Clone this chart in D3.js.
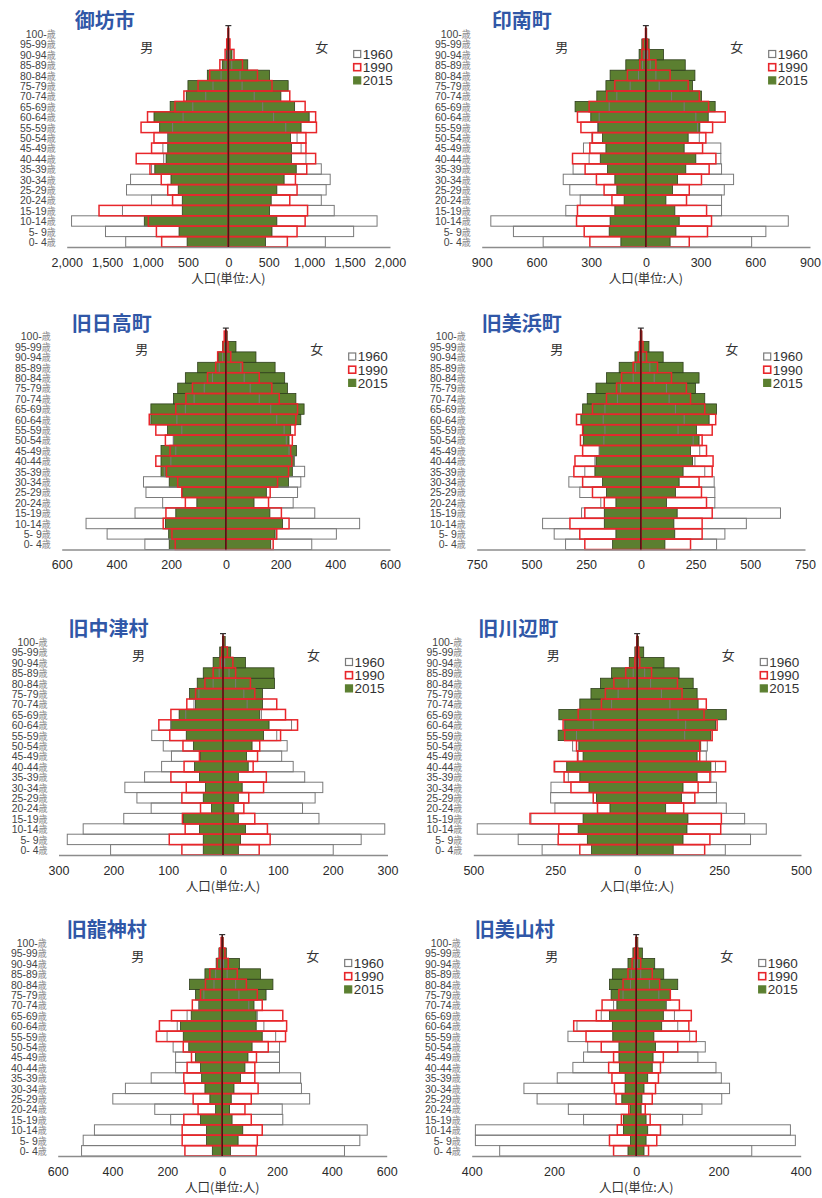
<!DOCTYPE html>
<html><head><meta charset="utf-8">
<script src="https://cdn.jsdelivr.net/npm/d3@7"></script>
<style>body{margin:0;background:#fff} svg{display:block} text{white-space:pre}</style>
</head><body><svg id="c" width="822" height="1198"></svg>
<script>
// ---------- data (bottom row "0- 4" first, top row "100-" last) ----------
const ageLabels = ["0- 4","5- 9","10-14","15-19","20-24","25-29","30-34","35-39","40-44","45-49","50-54","55-59","60-64","65-69","70-74","75-79","80-84","85-89","90-94","95-99","100-"];
const years = ["1960","1990","2015"];
const panelNames = ["御坊市","印南町","旧日高町","旧美浜町","旧中津村","旧川辺町","旧龍神村","旧美山村"];
const axisMax  = [2000,900,600,750,300,500,600,400];
const axisStep = [500,300,200,250,100,250,200,200];
const showAxisTitle = [true,true,false,false,true,true,true,true];

// 御坊市
const gobo_m1960 = [1270,1520,1940,1310,950,1260,1210,950,800,810,750,690,560,440,280,190,90,40,12,3,0];
const gobo_m1990 = [825,890,990,1600,690,750,830,970,1140,950,920,1080,1000,660,550,375,230,105,40,20,3];
const gobo_m2015 = [510,610,1040,570,570,620,710,910,770,750,750,850,920,720,520,500,260,75,22,10,2];
const gobo_f1960 = [1200,1550,1840,1310,1150,1210,1260,1150,960,900,850,710,560,425,320,170,145,42,15,3,0];
const gobo_f1990 = [730,850,950,980,760,850,830,970,1080,960,960,1090,1080,950,760,540,360,175,70,20,3];
const gobo_f2015 = [460,540,600,510,530,600,690,840,780,780,770,900,1000,820,650,740,510,240,45,15,3];
// 印南町
const inami_m1960 = [563,726,850,439,360,417,453,399,311,342,296,265,256,201,159,86,40,18,9,2,0];
const inami_m1990 = [307,338,380,375,186,229,271,333,402,307,293,356,375,311,214,170,101,33,22,15,2];
const inami_m2015 = [137,201,196,170,119,159,170,210,250,219,238,261,302,388,269,219,196,110,37,22,2];
const inami_f1960 = [580,658,781,415,415,430,481,415,411,411,293,283,274,210,141,73,55,24,9,2,0];
const inami_f1990 = [238,338,360,333,223,238,305,347,384,311,329,366,435,344,293,232,133,55,18,9,2];
const inami_f2015 = [133,165,183,159,110,146,174,219,274,210,232,296,342,380,305,256,269,216,97,18,5];
// 旧日高町
const hidaka_m1960 = [296,434,511,332,231,292,301,225,201,183,192,161,179,148,116,79,49,24,12,3,0];
const hidaka_m1990 = [185,197,229,219,148,161,176,217,256,204,221,256,280,183,146,122,67,37,30,10,6];
const hidaka_m2015 = [207,209,221,183,106,158,207,237,237,237,192,213,274,274,191,176,148,103,27,12,2];
const hidaka_f1960 = [314,404,489,325,246,262,274,288,250,231,221,213,186,164,122,89,67,55,18,5,0];
const hidaka_f1990 = [173,186,231,203,156,162,189,229,241,237,243,253,256,262,195,168,122,61,18,8,2];
const hidaka_f2015 = [164,180,207,161,103,148,229,243,250,258,231,237,274,286,256,225,215,180,110,37,5];
// 旧美浜町
const mihama_m1960 = [344,396,449,271,183,279,329,256,210,190,169,164,172,164,107,93,35,24,5,2,0];
const mihama_m1990 = [256,279,324,256,167,221,266,306,301,266,276,266,294,221,157,111,88,35,12,5,2];
const mihama_m2015 = [129,114,167,167,114,157,175,210,205,190,263,263,274,266,245,205,157,99,27,8,2];
const mihama_f1960 = [346,384,482,638,338,338,335,292,247,269,239,170,198,158,129,117,61,41,10,3,0];
const mihama_f1990 = [227,280,280,326,300,277,266,326,330,300,280,326,342,292,227,208,140,76,26,10,3];
const mihama_f2015 = [110,155,151,166,117,158,175,193,236,227,266,254,312,346,292,250,266,193,102,37,5];
// 旧中津村
const nakatsu_m1960 = [205,284,255,181,131,157,179,143,112,94,109,130,95,68,53,44,18,7,2,0,0];
const nakatsu_m1990 = [75,98,69,74,41,75,67,95,71,43,73,97,117,95,66,50,33,18,5,2,0];
const nakatsu_m2015 = [36,36,43,72,21,36,32,43,52,41,54,67,95,80,50,61,47,36,18,6,1];
const nakatsu_f1960 = [201,252,295,175,145,168,182,149,128,107,117,98,125,70,44,38,23,11,3,0,0];
const nakatsu_f1990 = [66,86,81,58,38,47,74,79,55,63,67,105,136,114,98,58,50,23,18,8,1];
const nakatsu_f2015 = [28,32,41,28,20,28,35,28,46,43,53,74,84,67,72,72,94,93,41,14,4];
// 旧川辺町
const kawabe_m1960 = [290,363,488,324,251,264,263,210,251,180,197,185,134,141,78,58,27,12,3,0,0];
const kawabe_m1990 = [175,241,239,327,121,134,202,223,253,182,185,221,226,180,109,97,71,35,7,3,1];
const kawabe_m2015 = [139,152,180,165,83,124,147,175,215,165,178,241,221,239,175,141,112,78,24,7,2];
const kawabe_f1960 = [269,346,394,328,272,242,242,225,239,211,214,145,148,125,100,74,41,23,5,0,0];
const kawabe_f1990 = [206,222,255,257,142,176,186,222,270,191,191,229,244,204,211,137,123,44,8,5,1];
const kawabe_f2015 = [110,140,152,155,87,135,140,183,225,183,194,225,239,272,186,183,171,128,82,20,4];
// 旧龍神村
const ryujin_m1960 = [513,507,466,188,246,399,353,259,170,170,179,201,164,128,85,67,30,24,5,0,0];
const ryujin_m1990 = [136,146,146,140,88,106,136,140,128,112,142,240,229,185,109,79,61,45,18,9,4];
const ryujin_m2015 = [36,57,57,79,24,45,63,75,79,97,122,142,152,113,85,97,119,63,22,12,2];
const ryujin_f1960 = [446,502,529,221,219,319,289,286,209,209,209,195,152,128,97,61,49,18,5,0,0];
const ryujin_f1990 = [124,128,146,106,83,106,131,119,119,125,168,231,235,221,146,128,88,55,22,10,2];
const ryujin_f2015 = [30,58,75,36,27,33,43,67,83,94,109,146,124,124,116,160,185,140,63,15,4];
// 旧美山村
const miyama_m1960 = [332,391,391,128,165,241,273,192,154,128,118,166,144,85,55,32,14,12,3,0,0];
const miyama_m1990 = [55,65,46,36,18,49,53,59,67,55,85,122,152,97,83,42,32,20,10,4,1];
const miyama_m2015 = [20,14,31,31,15,35,27,27,41,42,42,57,58,65,47,61,65,58,20,8,2];
const miyama_f1960 = [281,387,375,113,160,208,227,207,194,150,168,130,101,93,73,55,32,11,3,0,0];
const miyama_f1990 = [30,50,59,34,22,39,47,54,59,66,101,146,128,134,105,83,57,39,11,4,1];
const miyama_f2015 = [19,24,28,24,12,14,19,28,39,41,47,43,62,66,73,83,101,67,45,15,4];

const male = [
  [gobo_m1960,gobo_m1990,gobo_m2015],[inami_m1960,inami_m1990,inami_m2015],
  [hidaka_m1960,hidaka_m1990,hidaka_m2015],[mihama_m1960,mihama_m1990,mihama_m2015],
  [nakatsu_m1960,nakatsu_m1990,nakatsu_m2015],[kawabe_m1960,kawabe_m1990,kawabe_m2015],
  [ryujin_m1960,ryujin_m1990,ryujin_m2015],[miyama_m1960,miyama_m1990,miyama_m2015]];
const female = [
  [gobo_f1960,gobo_f1990,gobo_f2015],[inami_f1960,inami_f1990,inami_f2015],
  [hidaka_f1960,hidaka_f1990,hidaka_f2015],[mihama_f1960,mihama_f1990,mihama_f2015],
  [nakatsu_f1960,nakatsu_f1990,nakatsu_f2015],[kawabe_f1960,kawabe_f1990,kawabe_f2015],
  [ryujin_f1960,ryujin_f1990,ryujin_f2015],[miyama_f1960,miyama_f1990,miyama_f2015]];

// ---------- layout ----------
const layout = [
  {x0:66.7, x1:390,   yb:247,   tdx:8},
  {x0:481.7,x1:810,   yb:247,   tdx:10},
  {x0:61.7, x1:390,   yb:549.5, tdx:10},
  {x0:476.7,x1:805,   yb:549.5, tdx:5},
  {x0:58.5, x1:387.5, yb:855,   tdx:10},
  {x0:473.3,x1:801,   yb:855,   tdx:5},
  {x0:57.7, x1:386.7, yb:1156,  tdx:9},
  {x0:471.7,x1:800.7, yb:1156,  tdx:3}];
const rowH = 10.4;
const latin = "'Liberation Sans', Arial, sans-serif";
const cjk = "'Noto Sans CJK JP', 'Noto Sans', sans-serif";
const style = {
  "1960": {fill:"none", stroke:"#7a7a7a", sw:1},
  "1990": {fill:"none", stroke:"#e8262b", sw:1.5},
  "2015": {fill:"#5b7f30", stroke:"#2e3d1c", sw:0.8}
};
const drawOrder = [2,0,1]; // 2015 filled below, outlines above

const svg = d3.select("#c");

panelNames.forEach((name,i)=>{
  const L = layout[i];
  const g = svg.append("g");
  const x = d3.scaleLinear().domain([-axisMax[i], axisMax[i]]).range([L.x0, L.x1]);
  const y = d3.scaleBand().domain(ageLabels.slice().reverse())
              .range([L.yb - ageLabels.length*rowH, L.yb]).padding(0);
  const x0v = x(0);

  drawOrder.forEach(k=>{
    const yr = years[k], st = style[yr];
    const rows = ageLabels.map((a,j)=>({age:a, m:male[i][k][j], f:female[i][k][j]}));
    const gs = g.append("g").attr("fill",st.fill).attr("stroke",st.stroke).attr("stroke-width",st.sw);
    gs.selectAll("rect.m").data(rows.filter(d=>d.m>0)).join("rect").attr("class","m")
      .attr("x",d=>x(-d.m)).attr("width",d=>x0v-x(-d.m))
      .attr("y",d=>y(d.age)).attr("height",y.bandwidth());
    gs.selectAll("rect.f").data(rows.filter(d=>d.f>0)).join("rect").attr("class","f")
      .attr("x",x0v).attr("width",d=>x(d.f)-x0v)
      .attr("y",d=>y(d.age)).attr("height",y.bandwidth());
  });

  // x axis
  const ax = d3.axisBottom(x)
    .tickValues(d3.range(-axisMax[i], axisMax[i]+1, axisStep[i]))
    .tickFormat(d=>d3.format(",")(Math.abs(d)))
    .tickSize(0).tickSizeOuter(0).tickPadding(11);
  const ga = g.append("g").attr("transform",`translate(0,${L.yb})`).call(ax)
    .attr("font-family",latin).attr("font-size",12.5);
  ga.select(".domain").attr("stroke","#8c8c8c").attr("stroke-width",1.5);
  ga.selectAll(".tick text").attr("fill","#2a2a2a");

  // center line with cap
  const topY = L.yb - ageLabels.length*rowH - 3;
  g.append("line").attr("x1",x0v).attr("x2",x0v).attr("y1",topY).attr("y2",L.yb)
    .attr("stroke","#4d1414").attr("stroke-width",1.6);
  g.append("line").attr("x1",x0v-3).attr("x2",x0v+3).attr("y1",topY).attr("y2",topY)
    .attr("stroke","#333").attr("stroke-width",1.2);

  // age labels (one text per row: digits + small grey 歳)
  const lab = g.append("g");
  const t = lab.selectAll("text").data(ageLabels).join("text")
    .attr("transform",d=>`translate(${L.x0-11},${y(d)+rowH/2}) scale(1,1.12)`)
    .attr("dy","0.35em").attr("text-anchor","end")
    .attr("font-family",latin).attr("font-size",10.5).attr("fill","#444");
  t.append("tspan").text(d=>d);
  t.append("tspan").attr("font-family",cjk).attr("font-size",9).attr("fill","#8a8a8a").text("歳");

  // title
  g.append("text").attr("x",L.x0+L.tdx).attr("y",L.yb-219)
    .attr("font-family",cjk).attr("font-weight","bold").attr("font-size",20)
    .attr("fill","#3057a7").text(name);

  // sex labels
  g.append("text").attr("x",L.x0+80).attr("y",L.yb-195.5).attr("text-anchor","middle")
    .attr("font-family",cjk).attr("font-size",13).attr("fill","#333").text("男");
  g.append("text").attr("x",L.x0+255).attr("y",L.yb-195.5).attr("text-anchor","middle")
    .attr("font-family",cjk).attr("font-size",13).attr("fill","#333").text("女");

  // legend
  const lg = g.append("g");
  years.forEach((yr,k)=>{
    const cy = L.yb - 193 + k*13.2;
    const st = style[yr];
    lg.append("rect").attr("x",L.x0+287).attr("y",cy-3.5).attr("width",7).attr("height",7)
      .attr("fill", st.fill==="none" ? "#fff" : st.fill)
      .attr("stroke", yr==="2015" ? "#5b7f30" : st.stroke).attr("stroke-width", yr==="1990"?1.6:1.2);
    lg.append("text").attr("x",L.x0+296).attr("y",cy).attr("dy","0.36em")
      .attr("font-family",latin).attr("font-size",13.5).attr("fill","#333").text(yr);
  });

  if (showAxisTitle[i]) {
    g.append("text").attr("x",x0v).attr("y",L.yb+36).attr("text-anchor","middle")
      .attr("font-family",cjk).attr("font-size",12.5).attr("fill","#333").text("人口(単位:人)");
  }
});
</script></body></html>
